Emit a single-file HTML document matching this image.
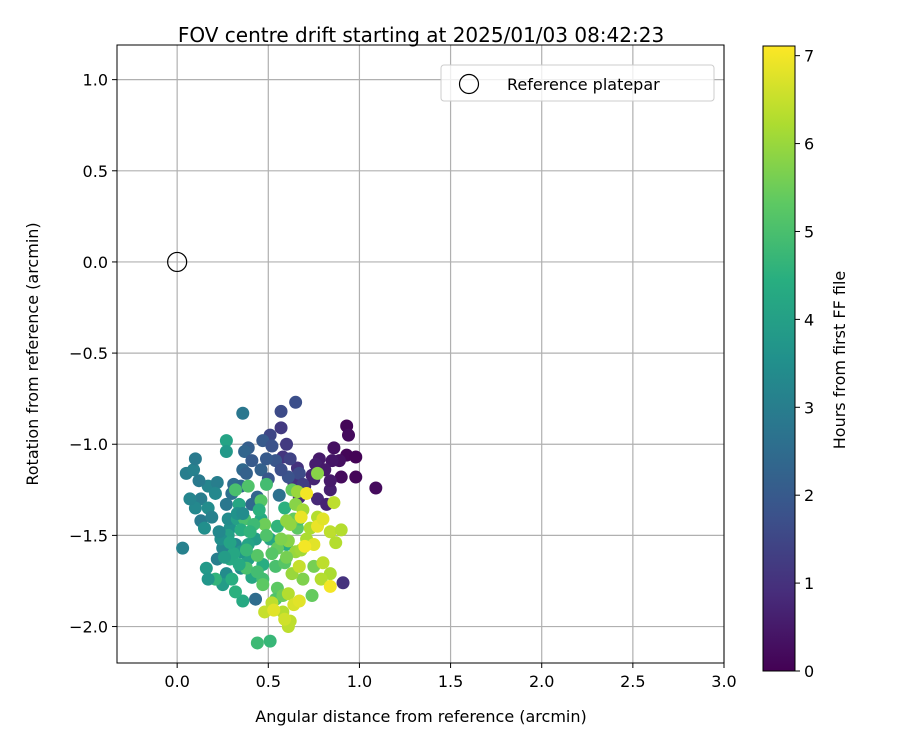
<!DOCTYPE html>
<html><head><meta charset="utf-8"><style>
html,body{margin:0;padding:0;background:#fff;}
svg{display:block;font-family:"DejaVu Sans","Liberation Sans",sans-serif;}
</style></head><body>
<svg id="chart" width="900" height="750" xmlns="http://www.w3.org/2000/svg">
<defs>
<linearGradient id="viridis" x1="0" y1="1" x2="0" y2="0">
<stop offset="0" stop-color="#440154"/><stop offset="0.125" stop-color="#472d7b"/><stop offset="0.25" stop-color="#3b528b"/><stop offset="0.375" stop-color="#2c728e"/><stop offset="0.5" stop-color="#21918c"/><stop offset="0.625" stop-color="#28ae80"/><stop offset="0.75" stop-color="#5ec962"/><stop offset="0.875" stop-color="#addc30"/><stop offset="1" stop-color="#fde725"/>
</linearGradient>
<clipPath id="plotclip"><rect x="117" y="45" width="607" height="618"/></clipPath>
</defs>
<rect x="0" y="0" width="900" height="750" fill="#fff"/>
<text x="421" y="42" text-anchor="middle" font-size="20">FOV centre drift starting at 2025/01/03 08:42:23</text>
<g id="grid"></g>
<g id="points" clip-path="url(#plotclip)"></g>
<rect x="117" y="45" width="607" height="618" fill="none" stroke="#000" stroke-width="1"/>
<g id="axes"></g>
<text x="421" y="722" text-anchor="middle" font-size="16">Angular distance from reference (arcmin)</text>
<text transform="translate(38,354) rotate(-90)" text-anchor="middle" font-size="16">Rotation from reference (arcmin)</text>
<g>
<rect x="441" y="65" width="273" height="36" rx="3" fill="#fff" fill-opacity="0.8" stroke="#ccc"/>
<circle cx="469" cy="84" r="9.5" fill="none" stroke="#000" stroke-width="1.2"/>
<text x="507" y="90" font-size="16">Reference platepar</text>
</g>
<rect x="763" y="46" width="32" height="625" fill="url(#viridis)" stroke="#000" stroke-width="1"/>
<g id="cbticks"></g>
<text transform="translate(845,360) rotate(-90)" text-anchor="middle" font-size="16">Hours from first FF file</text>
</svg>
<script>
const xTicks=[0.0,0.5,1.0,1.5,2.0,2.5,3.0];
const yTicks=[-2.0,-1.5,-1.0,-0.5,0.0,0.5,1.0];
const cTicks=[0,1,2,3,4,5,6,7];
const xs=[0.93,0.94,0.93,0.89,0.98,0.98,0.90,0.86,0.85,0.78,0.76,0.74,0.81,1.09,0.91,0.84,0.77,0.82,0.67,0.70,0.66,0.58,0.60,0.51,0.57,0.65,0.57,0.64,0.75,0.84,
0.67,0.62,0.69,0.61,0.54,0.47,0.39,0.37,0.41,0.46,0.36,0.31,0.38,0.52,0.57,0.49,0.44,0.41,0.30,0.27,0.50,0.43,0.35,
0.36,0.05,0.09,0.10,0.17,0.13,0.10,0.13,0.17,0.07,0.03,0.22,0.21,0.15,0.25,0.22,0.29,0.32,0.28,0.27,0.35,0.16,0.25,
0.27,0.27,0.34,0.33,0.29,0.30,0.36,0.32,0.41,0.39,0.43,0.35,0.21,0.17,0.39,0.47,0.51,0.46,0.55,0.60,0.59,
0.39,0.49,0.46,0.32,0.37,0.44,0.54,0.55,0.66,0.67,0.63,0.44,0.51,0.54,0.47,0.38,0.48,0.59,0.64,0.77,0.75,0.58,0.69,0.74,
0.66,0.60,0.65,0.69,0.61,0.65,0.73,0.68,0.84,0.90,0.87,0.80,0.84,0.63,0.61,0.58,0.62,0.61,0.48,0.52,0.71,0.77,0.86,0.79,0.59,0.67,
0.71,0.68,0.77,0.84,0.53,0.64,0.75,0.70,0.67,0.80,
0.28,0.33,0.24,0.31,0.35,0.42,0.45,0.26,0.38,0.49,0.55,0.60,0.44,0.34,0.52,0.29,0.40,0.57,0.47,0.62,0.36,0.23,0.19,0.12,0.56];
const ys=[-0.90,-0.95,-1.06,-1.09,-1.07,-1.18,-1.18,-1.02,-1.09,-1.08,-1.11,-1.17,-1.14,-1.24,-1.76,-1.25,-1.30,-1.33,-1.29,-1.23,-1.13,-1.07,-1.00,-0.95,-0.82,-0.77,-0.91,-1.21,-1.19,-1.20,
-1.16,-1.08,-1.22,-1.18,-1.09,-0.98,-1.02,-1.04,-1.09,-1.14,-1.14,-1.22,-1.16,-1.01,-1.14,-1.08,-1.29,-1.33,-1.27,-1.33,-1.19,-1.85,-1.23,
-0.83,-1.16,-1.14,-1.08,-1.23,-1.30,-1.35,-1.42,-1.35,-1.30,-1.57,-1.21,-1.27,-1.46,-1.57,-1.63,-1.46,-1.55,-1.41,-1.71,-1.68,-1.68,-1.77,
-0.98,-1.04,-1.33,-1.41,-1.63,-1.74,-1.86,-1.81,-1.73,-1.63,-1.52,-1.59,-1.74,-1.74,-1.55,-1.66,-1.52,-1.41,-1.45,-1.55,-1.35,
-1.23,-1.22,-1.31,-1.25,-1.41,-1.61,-1.67,-1.79,-1.46,-1.41,-1.25,-2.09,-2.08,-1.85,-1.74,-1.68,-1.44,-1.65,-1.41,-1.16,-1.67,-1.83,-1.74,-1.83,
-1.26,-1.42,-1.33,-1.36,-1.53,-1.59,-1.46,-1.58,-1.48,-1.47,-1.54,-1.65,-1.71,-1.71,-1.82,-1.92,-1.97,-2.00,-1.92,-1.87,-1.52,-1.40,-1.32,-1.74,-1.96,-1.67,
-1.27,-1.40,-1.45,-1.78,-1.91,-1.88,-1.55,-1.56,-1.86,-1.41,
-1.50,-1.38,-1.52,-1.60,-1.47,-1.44,-1.36,-1.62,-1.58,-1.50,-1.57,-1.62,-1.70,-1.66,-1.60,-1.54,-1.48,-1.52,-1.77,-1.44,-1.38,-1.48,-1.40,-1.20,-1.28];
const hours=[0.1,0.2,0.1,0.3,0.05,0.1,0.2,0.3,0.4,0.5,0.6,0.7,0.5,0.2,1.0,0.6,0.8,0.7,0.9,0.8,1.0,1.1,1.2,1.5,1.6,1.7,1.2,1.0,0.7,0.5,
1.6,1.4,1.3,1.8,1.9,2.0,2.1,2.3,2.0,2.2,2.4,2.5,2.2,1.8,1.7,2.0,2.3,2.4,2.6,2.8,1.9,2.5,2.4,
2.8,3.0,3.1,2.9,3.2,3.0,3.3,2.9,3.4,3.2,3.1,3.0,3.3,3.5,3.2,3.0,3.6,3.3,3.4,3.4,3.5,3.8,3.9,
4.1,3.8,4.2,4.0,4.3,4.4,4.3,4.5,4.2,4.0,3.9,3.7,4.6,3.7,4.1,4.4,4.2,4.3,4.6,4.4,4.5,
5.1,4.9,5.2,5.0,5.0,5.2,5.0,5.3,5.3,5.0,5.4,4.8,4.7,5.1,4.9,5.0,5.5,5.2,5.4,5.8,5.6,5.5,5.7,5.4,
6.0,5.9,5.8,6.1,5.8,6.0,6.2,6.1,6.4,6.3,6.3,6.4,6.2,6.0,6.3,6.3,6.4,6.4,6.5,6.4,6.2,6.3,6.4,6.3,6.6,6.5,
7.0,6.9,6.9,7.0,6.8,6.7,6.8,7.0,6.8,6.8,
4.0,3.6,3.5,4.2,4.4,4.8,4.5,3.9,4.7,5.1,5.4,5.6,4.9,4.3,5.2,4.1,4.6,5.7,5.3,5.9,3.4,3.3,3.1,2.9,2.6];
const X0=117,X1=724,XMIN=-0.33,XMAX=3.0;
const Y0=663,Y1=45,YMIN=-2.2,YMAX=1.19;
const CMIN=0,CMAX=7.11,CB0=671,CB1=46;
function sx(v){return X0+(v-XMIN)/(XMAX-XMIN)*(X1-X0);}
function sy(v){return Y0-(v-YMIN)/(YMAX-YMIN)*(Y0-Y1);}
function sc(v){return CB0-(v-CMIN)/(CMAX-CMIN)*(CB0-CB1);}
const vir=[[68,1,84],[71,45,123],[59,82,139],[44,114,142],[33,145,140],[40,174,128],[94,201,98],[173,220,48],[253,231,37]];
function color(h){let t=Math.max(0,Math.min(1,(h-CMIN)/(CMAX-CMIN)))*8;let i=Math.min(7,Math.floor(t)),f=t-i;const a=vir[i],b=vir[i+1];return 'rgb('+a.map((c,k)=>Math.round(c+(b[k]-c)*f)).join(',')+')';}
const NS='http://www.w3.org/2000/svg';
function mk(tag,attrs,parent){const e=document.createElementNS(NS,tag);for(const k in attrs)e.setAttribute(k,attrs[k]);parent.appendChild(e);return e;}
const grid=document.getElementById('grid'),axes=document.getElementById('axes'),pts=document.getElementById('points'),cb=document.getElementById('cbticks');
xTicks.forEach(v=>{const x=sx(v);
const g=mk('line',{x1:x,x2:x,y1:Y1,y2:Y0,stroke:'#b0b0b0','stroke-width':1.2},grid);


const t=mk('line',{x1:x,x2:x,y1:Y0,y2:Y0+5,stroke:'#000'},axes);


const l=mk('text',{x:x,y:Y0+24,'text-anchor':'middle','font-size':16},axes);l.textContent=v.toFixed(1);

});
yTicks.forEach(v=>{const y=sy(v);
const g=mk('line',{x1:X0,x2:X1,y1:y,y2:y,stroke:'#b0b0b0','stroke-width':1.2},grid);


const t=mk('line',{x1:X0-5,x2:X0,y1:y,y2:y,stroke:'#000'},axes);


const l=mk('text',{x:X0-9,y:y+6,'text-anchor':'end','font-size':16},axes);l.textContent=(v<0?'\u2212'+Math.abs(v).toFixed(1):v.toFixed(1));

});
const ref=mk('circle',{cx:sx(0),cy:sy(0),r:9.5,fill:'none',stroke:'#000','stroke-width':1.2},pts);


xs.forEach((v,i)=>{const c=mk('circle',{cx:sx(v),cy:sy(ys[i]),r:6.5,fill:color(hours[i])},pts);

});
cTicks.forEach(v=>{const y=sc(v);
const t=mk('line',{x1:795,x2:800,y1:y,y2:y,stroke:'#000'},cb);


const l=mk('text',{x:804,y:y+6,'font-size':16},cb);l.textContent=String(v);

});
</script>
</body></html>
